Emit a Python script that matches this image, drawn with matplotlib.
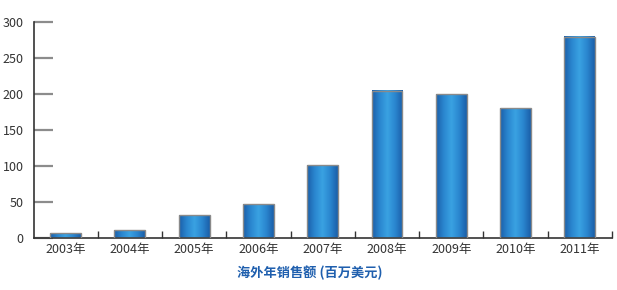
import matplotlib
matplotlib.use("Agg")
import matplotlib.pyplot as plt
import numpy as np
from matplotlib.colors import LinearSegmentedColormap

plt.rcParams['font.family'] = ['Noto Sans CJK SC', 'DejaVu Sans']

years = ["2003年", "2004年", "2005年", "2006年", "2007年", "2008年", "2009年", "2010年", "2011年"]
sales = [6, 11, 32, 47, 101, 205, 200, 180, 280]
yticks = [0, 50, 100, 150, 200, 250, 300]
xlabel = "海外年销售额 (百万美元)"

fig = plt.figure(figsize=(6.17, 2.90), dpi=100)
ax = fig.add_axes([33.5/617, (290-237.7)/290, (612-33.5)/617, (237.7-22.3)/290])

x = np.arange(len(years))
bars = ax.bar(x, sales, width=0.48, color='none', edgecolor='#8a8a8a', linewidth=1.0, zorder=3)

cmap = LinearSegmentedColormap.from_list('g', ['#1a5ea8', '#2a86cf', '#3aa2e2', '#2a86cf', '#1a5ea8'])
grad = np.linspace(0, 1, 256).reshape(1, -1)
for b in bars:
    x0, w, h = b.get_x(), b.get_width(), b.get_height()
    ax.imshow(grad, cmap=cmap, aspect='auto', extent=(x0, x0 + w, 0, h), zorder=2, interpolation='bicubic')

ax.set_xlim(-0.5, len(years) - 0.5)
ax.set_ylim(0, 300)

for s in ['top', 'right']:
    ax.spines[s].set_visible(False)
for s in ['left', 'bottom']:
    ax.spines[s].set_color('#333333')
    ax.spines[s].set_linewidth(1.2)

ax.set_yticks(yticks)
ax.set_yticklabels([str(v) for v in yticks])
ax.tick_params(axis='y', direction='in', length=14, width=1.6, color='#8c8c8c',
               labelsize=9, labelcolor='#333333', pad=7)

ax.set_xticks(x)
ax.set_xticklabels(years)
ax.tick_params(axis='x', which='major', length=0, labelsize=9, labelcolor='#333333', pad=4)
ax.set_xticks(np.arange(0.5, len(years)), minor=True)
ax.tick_params(axis='x', which='minor', direction='in', length=5, width=1.0, color='#333333')

fig.text(310/617, 1 - 272.5/290, xlabel, ha='center', va='center', fontsize=9.5,
         fontweight='bold', color='#1f5fae')

fig.savefig('out.png', dpi=100)
